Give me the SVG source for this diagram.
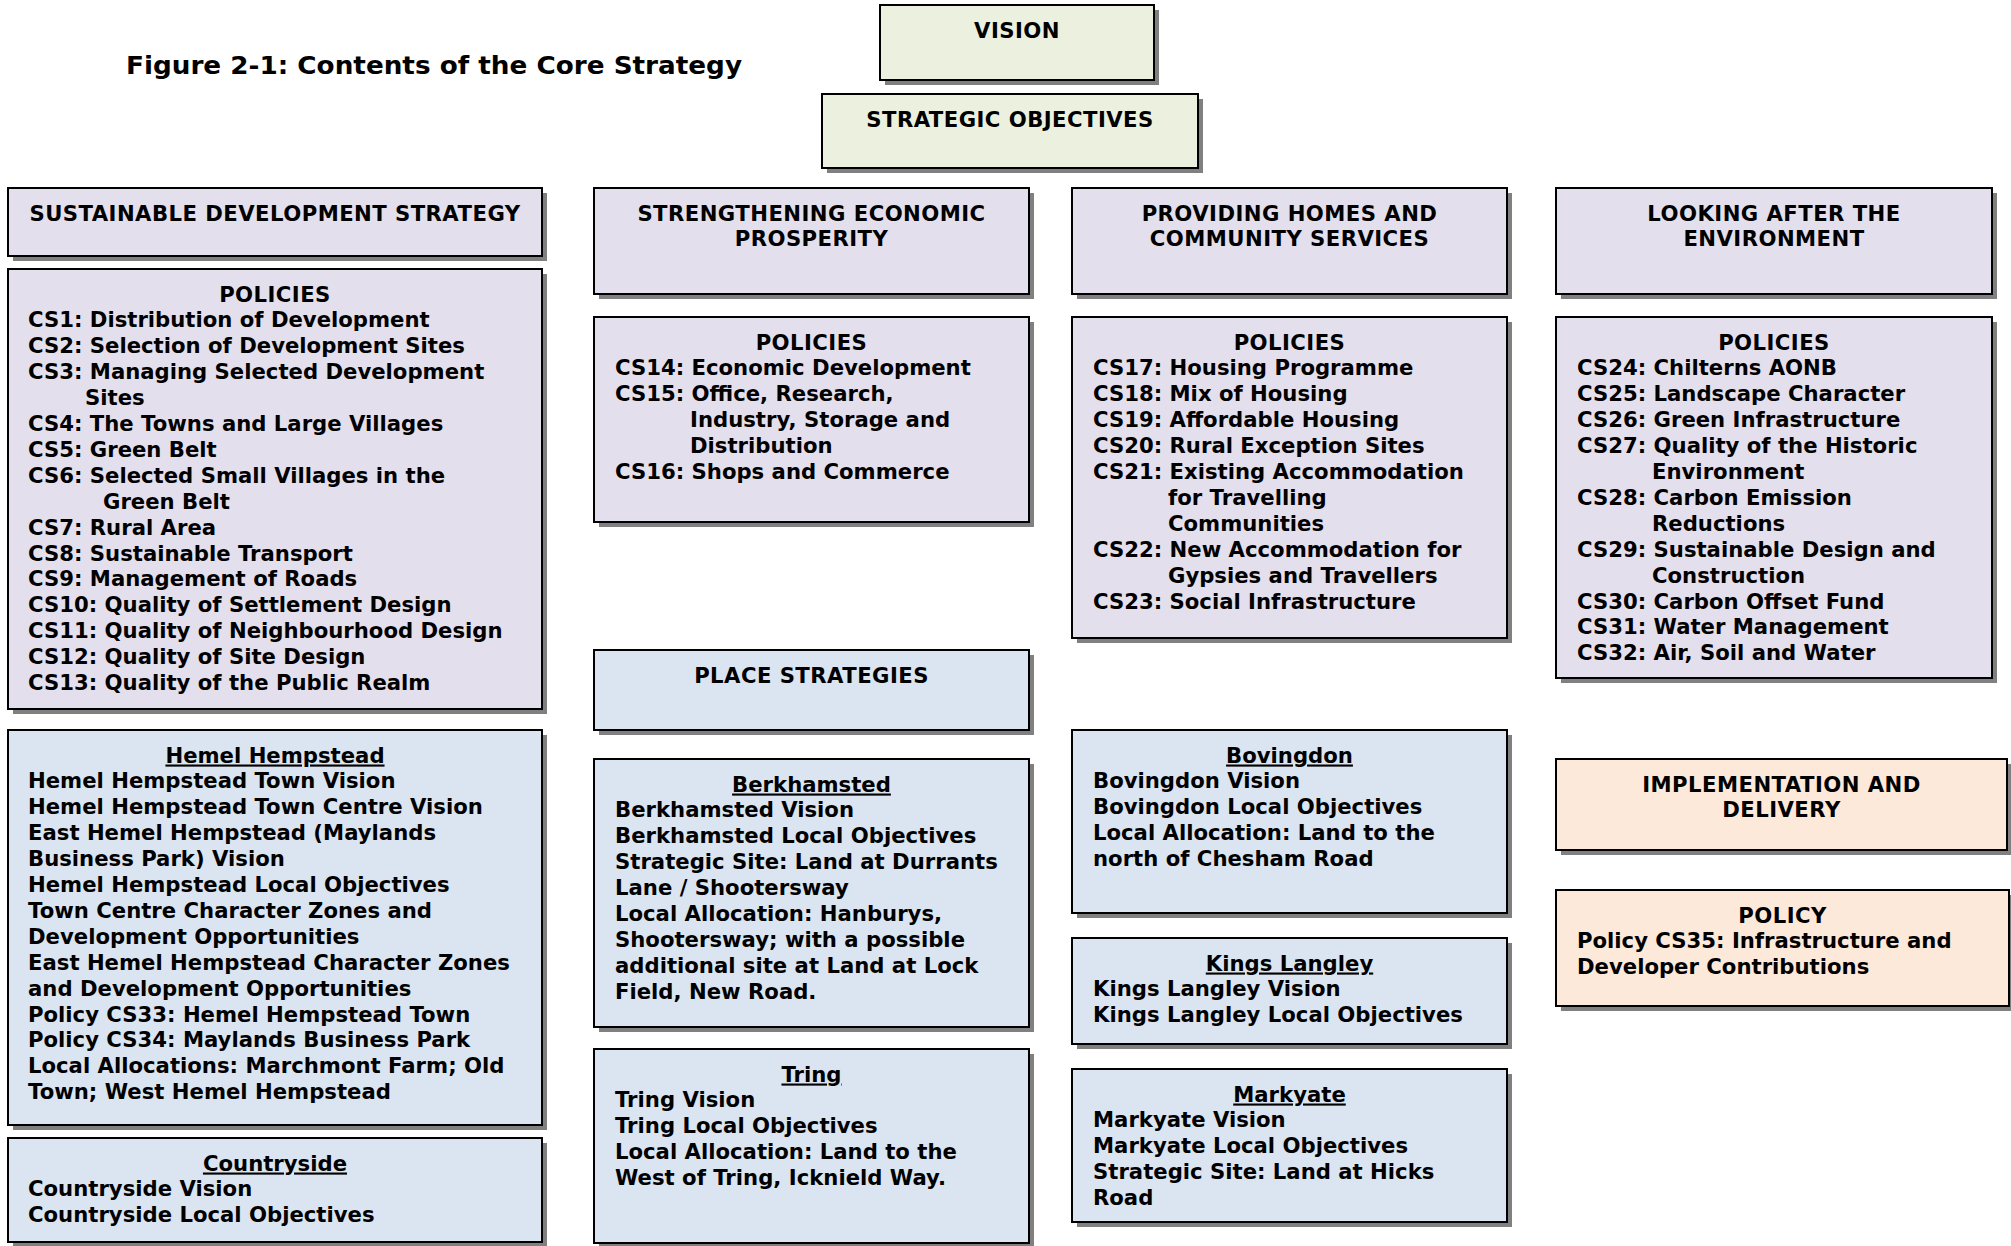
<svg xmlns="http://www.w3.org/2000/svg" width="2011" height="1246" viewBox="0 0 2011 1246">
<style>
.sh{fill:#808080}
.bx{stroke:#000;stroke-width:2}
.g{fill:#ebf1de}.p{fill:#e4dfec}.b{fill:#dbe5f1}.o{fill:#fde9d9}
text{font-family:"DejaVu Sans",Verdana,sans-serif;font-weight:bold;font-size:21.2px;fill:#000}
.c{text-anchor:middle}
.h{letter-spacing:0.45px}
.u{text-decoration:underline}
.t{font-size:25px}
</style>
<rect width="2011" height="1246" fill="#fff"/>
<text class="t" x="126" y="74" textLength="616" lengthAdjust="spacingAndGlyphs">Figure 2-1: Contents of the Core Strategy</text>
<g id="connectors"/>

<g id="vision">
<rect class="sh" x="885" y="10" width="274" height="75"/>
<rect class="bx g" x="880" y="5" width="274" height="75"/>
<text class="c h" x="1017" y="37.5">VISION</text>
</g>
<g id="strategic-objectives">
<rect class="sh" x="827" y="99" width="376" height="74"/>
<rect class="bx g" x="822" y="94" width="376" height="74"/>
<text class="c h" x="1010" y="126.5">STRATEGIC OBJECTIVES</text>
</g>

<g id="sds-header">
<rect class="sh" x="13" y="193" width="534" height="68"/>
<rect class="bx p" x="8" y="188" width="534" height="68"/>
<text class="c h" x="275" y="220.5">SUSTAINABLE DEVELOPMENT STRATEGY</text>
</g>
<g id="sep-header">
<rect class="sh" x="599" y="193" width="435" height="106"/>
<rect class="bx p" x="594" y="188" width="435" height="106"/>
<text class="c h" x="811.5" y="220.5">STRENGTHENING ECONOMIC<tspan x="811.5" dy="25.9">PROSPERITY</tspan></text>
</g>
<g id="phcs-header">
<rect class="sh" x="1077" y="193" width="435" height="106"/>
<rect class="bx p" x="1072" y="188" width="435" height="106"/>
<text class="c h" x="1289.5" y="220.5">PROVIDING HOMES AND<tspan x="1289.5" dy="25.9">COMMUNITY SERVICES</tspan></text>
</g>
<g id="late-header">
<rect class="sh" x="1561" y="193" width="436" height="106"/>
<rect class="bx p" x="1556" y="188" width="436" height="106"/>
<text class="c h" x="1774" y="220.5">LOOKING AFTER THE<tspan x="1774" dy="25.9">ENVIRONMENT</tspan></text>
</g>

<g id="sds-policies">
<rect class="sh" x="13" y="274" width="534" height="440"/>
<rect class="bx p" x="8" y="269" width="534" height="440"/>
<text class="c h" x="275" y="301.5">POLICIES</text>
<text x="28" y="327.4">CS1: Distribution of Development<tspan x="28" dy="25.9">CS2: Selection of Development Sites</tspan><tspan x="28" dy="25.9">CS3: Managing Selected Development</tspan><tspan x="85" dy="25.9">Sites</tspan><tspan x="28" dy="25.9">CS4: The Towns and Large Villages</tspan><tspan x="28" dy="25.9">CS5: Green Belt</tspan><tspan x="28" dy="25.9">CS6: Selected Small Villages in the</tspan><tspan x="103" dy="25.9">Green Belt</tspan><tspan x="28" dy="25.9">CS7: Rural Area</tspan><tspan x="28" dy="25.9">CS8: Sustainable Transport</tspan><tspan x="28" dy="25.9">CS9: Management of Roads</tspan><tspan x="28" dy="25.9">CS10: Quality of Settlement Design</tspan><tspan x="28" dy="25.9">CS11: Quality of Neighbourhood Design</tspan><tspan x="28" dy="25.9">CS12: Quality of Site Design</tspan><tspan x="28" dy="25.9">CS13: Quality of the Public Realm</tspan></text>
</g>
<g id="sep-policies">
<rect class="sh" x="599" y="322" width="435" height="205"/>
<rect class="bx p" x="594" y="317" width="435" height="205"/>
<text class="c h" x="811.5" y="349.5">POLICIES</text>
<text x="615" y="375.4">CS14: Economic Development<tspan x="615" dy="25.9">CS15: Office, Research,</tspan><tspan x="690" dy="25.9">Industry, Storage and</tspan><tspan x="690" dy="25.9">Distribution</tspan><tspan x="615" dy="25.9">CS16: Shops and Commerce</tspan></text>
</g>
<g id="phcs-policies">
<rect class="sh" x="1077" y="322" width="435" height="321"/>
<rect class="bx p" x="1072" y="317" width="435" height="321"/>
<text class="c h" x="1289.5" y="349.5">POLICIES</text>
<text x="1093" y="375.4">CS17: Housing Programme<tspan x="1093" dy="25.9">CS18: Mix of Housing</tspan><tspan x="1093" dy="25.9">CS19: Affordable Housing</tspan><tspan x="1093" dy="25.9">CS20: Rural Exception Sites</tspan><tspan x="1093" dy="25.9">CS21: Existing Accommodation</tspan><tspan x="1168" dy="25.9">for Travelling</tspan><tspan x="1168" dy="25.9">Communities</tspan><tspan x="1093" dy="25.9">CS22: New Accommodation for</tspan><tspan x="1168" dy="25.9">Gypsies and Travellers</tspan><tspan x="1093" dy="25.9">CS23: Social Infrastructure</tspan></text>
</g>
<g id="late-policies">
<rect class="sh" x="1561" y="322" width="436" height="361"/>
<rect class="bx p" x="1556" y="317" width="436" height="361"/>
<text class="c h" x="1774" y="349.5">POLICIES</text>
<text x="1577" y="375.4">CS24: Chilterns AONB<tspan x="1577" dy="25.9">CS25: Landscape Character</tspan><tspan x="1577" dy="25.9">CS26: Green Infrastructure</tspan><tspan x="1577" dy="25.9">CS27: Quality of the Historic</tspan><tspan x="1652" dy="25.9">Environment</tspan><tspan x="1577" dy="25.9">CS28: Carbon Emission</tspan><tspan x="1652" dy="25.9">Reductions</tspan><tspan x="1577" dy="25.9">CS29: Sustainable Design and</tspan><tspan x="1652" dy="25.9">Construction</tspan><tspan x="1577" dy="25.9">CS30: Carbon Offset Fund</tspan><tspan x="1577" dy="25.9">CS31: Water Management</tspan><tspan x="1577" dy="25.9">CS32: Air, Soil and Water</tspan></text>
</g>

<g id="place-strategies">
<rect class="sh" x="599" y="655" width="435" height="80"/>
<rect class="bx b" x="594" y="650" width="435" height="80"/>
<text class="c h" x="811.5" y="682.5">PLACE STRATEGIES</text>
</g>
<g id="hemel-hempstead">
<rect class="sh" x="13" y="735" width="534" height="395"/>
<rect class="bx b" x="8" y="730" width="534" height="395"/>
<text class="c u" x="275" y="762.5">Hemel Hempstead</text>
<text x="28" y="788.4">Hemel Hempstead Town Vision<tspan x="28" dy="25.9">Hemel Hempstead Town Centre Vision</tspan><tspan x="28" dy="25.9">East Hemel Hempstead (Maylands</tspan><tspan x="28" dy="25.9">Business Park) Vision</tspan><tspan x="28" dy="25.9">Hemel Hempstead Local Objectives</tspan><tspan x="28" dy="25.9">Town Centre Character Zones and</tspan><tspan x="28" dy="25.9">Development Opportunities</tspan><tspan x="28" dy="25.9">East Hemel Hempstead Character Zones</tspan><tspan x="28" dy="25.9">and Development Opportunities</tspan><tspan x="28" dy="25.9">Policy CS33: Hemel Hempstead Town</tspan><tspan x="28" dy="25.9">Policy CS34: Maylands Business Park</tspan><tspan x="28" dy="25.9">Local Allocations: Marchmont Farm; Old</tspan><tspan x="28" dy="25.9">Town; West Hemel Hempstead</tspan></text>
</g>
<g id="countryside">
<rect class="sh" x="13" y="1143" width="534" height="104"/>
<rect class="bx b" x="8" y="1138" width="534" height="104"/>
<text class="c u" x="275" y="1170.5">Countryside</text>
<text x="28" y="1196.4">Countryside Vision<tspan x="28" dy="25.9">Countryside Local Objectives</tspan></text>
</g>
<g id="berkhamsted">
<rect class="sh" x="599" y="764" width="435" height="268"/>
<rect class="bx b" x="594" y="759" width="435" height="268"/>
<text class="c u" x="811.5" y="791.5">Berkhamsted</text>
<text x="615" y="817.4">Berkhamsted Vision<tspan x="615" dy="25.9">Berkhamsted Local Objectives</tspan><tspan x="615" dy="25.9">Strategic Site: Land at Durrants</tspan><tspan x="615" dy="25.9">Lane / Shootersway</tspan><tspan x="615" dy="25.9">Local Allocation: Hanburys,</tspan><tspan x="615" dy="25.9">Shootersway; with a possible</tspan><tspan x="615" dy="25.9">additional site at Land at Lock</tspan><tspan x="615" dy="25.9">Field, New Road.</tspan></text>
</g>
<g id="tring">
<rect class="sh" x="599" y="1054" width="435" height="194"/>
<rect class="bx b" x="594" y="1049" width="435" height="194"/>
<text class="c u" x="811.5" y="1081.5">Tring</text>
<text x="615" y="1107.4">Tring Vision<tspan x="615" dy="25.9">Tring Local Objectives</tspan><tspan x="615" dy="25.9">Local Allocation: Land to the</tspan><tspan x="615" dy="25.9">West of Tring, Icknield Way.</tspan></text>
</g>
<g id="bovingdon">
<rect class="sh" x="1077" y="735" width="435" height="183"/>
<rect class="bx b" x="1072" y="730" width="435" height="183"/>
<text class="c u" x="1289.5" y="762.5">Bovingdon</text>
<text x="1093" y="788.4">Bovingdon Vision<tspan x="1093" dy="25.9">Bovingdon Local Objectives</tspan><tspan x="1093" dy="25.9">Local Allocation: Land to the</tspan><tspan x="1093" dy="25.9">north of Chesham Road</tspan></text>
</g>
<g id="kings-langley">
<rect class="sh" x="1077" y="943" width="435" height="106"/>
<rect class="bx b" x="1072" y="938" width="435" height="106"/>
<text class="c u" x="1289.5" y="970.5">Kings Langley</text>
<text x="1093" y="996.4">Kings Langley Vision<tspan x="1093" dy="25.9">Kings Langley Local Objectives</tspan></text>
</g>
<g id="markyate">
<rect class="sh" x="1077" y="1074" width="435" height="153"/>
<rect class="bx b" x="1072" y="1069" width="435" height="153"/>
<text class="c u" x="1289.5" y="1101.5">Markyate</text>
<text x="1093" y="1127.4">Markyate Vision<tspan x="1093" dy="25.9">Markyate Local Objectives</tspan><tspan x="1093" dy="25.9">Strategic Site: Land at Hicks</tspan><tspan x="1093" dy="25.9">Road</tspan></text>
</g>

<g id="implementation">
<rect class="sh" x="1561" y="764" width="451" height="91"/>
<rect class="bx o" x="1556" y="759" width="451" height="91"/>
<text class="c h" x="1781.5" y="791.5">IMPLEMENTATION AND<tspan x="1781.5" dy="25.9">DELIVERY</tspan></text>
</g>
<g id="policy-cs35">
<rect class="sh" x="1561" y="895" width="453" height="116"/>
<rect class="bx o" x="1556" y="890" width="453" height="116"/>
<text class="c h" x="1782.5" y="922.5">POLICY</text>
<text x="1577" y="948.4">Policy CS35: Infrastructure and<tspan x="1577" dy="25.9">Developer Contributions</tspan></text>
</g>
</svg>
